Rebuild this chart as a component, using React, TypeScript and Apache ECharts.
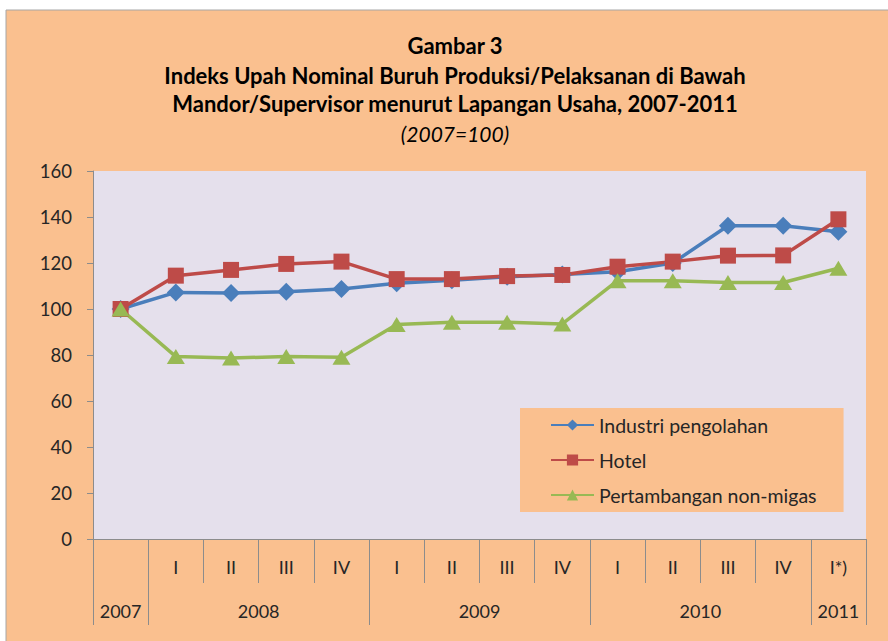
import React, { useEffect, useRef } from 'react';
import * as echarts from 'echarts';

const quarters = ['', 'I', 'II', 'III', 'IV', 'I', 'II', 'III', 'IV', 'I', 'II', 'III', 'IV', 'I*)'];
const years = ['2007', '2008', '2009', '2010', '2011'];
const yearCenters = [0.5, 3, 7, 11, 13.5];
const yearBoundaries = [0, 1, 5, 9, 13];
const industri = [100, 107.2, 107.0, 107.5, 108.7, 111.2, 112.5, 114, 115, 116.2, 120, 136.2, 136.2, 133.6];
const hotel = [100, 114.5, 117, 119.6, 120.6, 113, 113, 114.3, 114.8, 118.4, 120.6, 123.2, 123.3, 139];
const tambang = [100, 79.3, 78.7, 79.3, 79, 93.3, 94.2, 94.2, 93.5, 112.3, 112.3, 111.5, 111.5, 117.7];
const seriesNames = ['Industri pengolahan', 'Hotel', 'Pertambangan non-migas'];
const titleLines = [
  'Gambar 3',
  'Indeks Upah Nominal Buruh Produksi/Pelaksanan di Bawah',
  'Mandor/Supervisor menurut Lapangan Usaha, 2007-2011',
];
const subTitle = '(2007=100)';

const FONT = 'Lato';
const TXT = '#262626';
const AX = '#8C8C8C';
const ORANGE = '#FAC08F';

export default function App() {
  const ref = useRef<HTMLDivElement>(null);
  useEffect(() => {
    if (!ref.current) return;
    const chart = echarts.init(ref.current, undefined, { renderer: 'svg' });
    const titleY = [45, 75, 103];
    chart.setOption({
      animation: false,
      textStyle: { fontFamily: FONT },
      graphic: [
        {
          type: 'rect',
          z: -100,
          silent: true,
          shape: { x: 6, y: 10, width: 900, height: 650 },
          style: { fill: ORANGE, stroke: '#A6A6A6', lineWidth: 1 },
        },
        ...titleLines.map((t, i) => ({
          type: 'text',
          x: 455,
          y: titleY[i],
          style: {
            text: t,
            fontFamily: FONT,
            fontWeight: 'bold',
            fontSize: 22,
            fill: '#000',
            textAlign: 'center',
            textVerticalAlign: 'middle',
          },
        })),
        {
          type: 'text',
          x: 455,
          y: 133,
          style: {
            text: subTitle,
            fontFamily: FONT,
            fontStyle: 'italic',
            fontSize: 21,
            fill: '#000',
            textAlign: 'center',
            textVerticalAlign: 'middle',
          },
        },
      ],
      grid: {
        left: 93,
        right: 22,
        top: 171,
        bottom: 102,
        show: true,
        backgroundColor: '#E5E0EC',
        borderWidth: 0,
      },
      legend: {
        data: seriesNames,
        orient: 'vertical',
        left: 520,
        top: 408,
        padding: [7, 27, 7, 30],
        backgroundColor: ORANGE,
        itemWidth: 43,
        itemHeight: 14,
        itemGap: 15,
        textStyle: { fontSize: 19.5, color: TXT, fontFamily: FONT },
      },
      xAxis: [
        {
          type: 'category',
          data: quarters,
          position: 'bottom',
          boundaryGap: true,
          axisLine: { lineStyle: { color: AX, width: 1 } },
          axisTick: { show: true, interval: 0, length: 44, lineStyle: { color: AX } },
          axisLabel: { interval: 0, margin: 19, fontSize: 18, color: TXT, fontFamily: FONT },
          splitLine: { show: false },
        },
        {
          type: 'category',
          data: quarters,
          position: 'bottom',
          boundaryGap: true,
          axisLine: { show: false },
          axisTick: {
            show: true,
            interval: (i: number) => yearBoundaries.indexOf(i) >= 0,
            length: 86,
            lineStyle: { color: AX },
          },
          axisLabel: { show: false },
          splitLine: { show: false },
        },
        {
          type: 'value',
          min: 0,
          max: 14,
          interval: 0.5,
          position: 'bottom',
          axisLine: { show: false },
          axisTick: { show: false },
          splitLine: { show: false },
          axisLabel: {
            margin: 63,
            fontSize: 18,
            color: TXT,
            fontFamily: FONT,
            formatter: (v: number) => {
              const idx = yearCenters.indexOf(v);
              return idx >= 0 ? years[idx] : '';
            },
          },
        },
      ],
      yAxis: {
        type: 'value',
        min: 0,
        max: 160,
        interval: 20,
        axisLine: { show: true, lineStyle: { color: AX } },
        axisTick: { show: true, length: 6, lineStyle: { color: AX } },
        splitLine: { show: false },
        axisLabel: { margin: 21, fontSize: 18.5, color: TXT, fontFamily: FONT },
      },
      series: [
        {
          name: seriesNames[0],
          type: 'line',
          xAxisIndex: 0,
          data: industri,
          symbol: 'diamond',
          symbolSize: 18,
          lineStyle: { color: '#4A7EBB', width: 3.5 },
          itemStyle: { color: '#4A7EBB' },
        },
        {
          name: seriesNames[1],
          type: 'line',
          xAxisIndex: 0,
          data: hotel,
          symbol: 'rect',
          symbolSize: 16,
          lineStyle: { color: '#BE4B48', width: 3.5 },
          itemStyle: { color: '#BE4B48' },
        },
        {
          name: seriesNames[2],
          type: 'line',
          xAxisIndex: 0,
          data: tambang,
          symbol: 'triangle',
          symbolSize: [18, 15],
          lineStyle: { color: '#98B954', width: 3.5 },
          itemStyle: { color: '#98B954' },
        },
      ],
    });
    return () => chart.dispose();
  }, []);
  return (
    <div style={{ position: 'fixed', left: 0, top: 0, width: 888, height: 641, background: '#fff' }}>
      <div ref={ref} style={{ width: 888, height: 641 }} />
    </div>
  );
}
